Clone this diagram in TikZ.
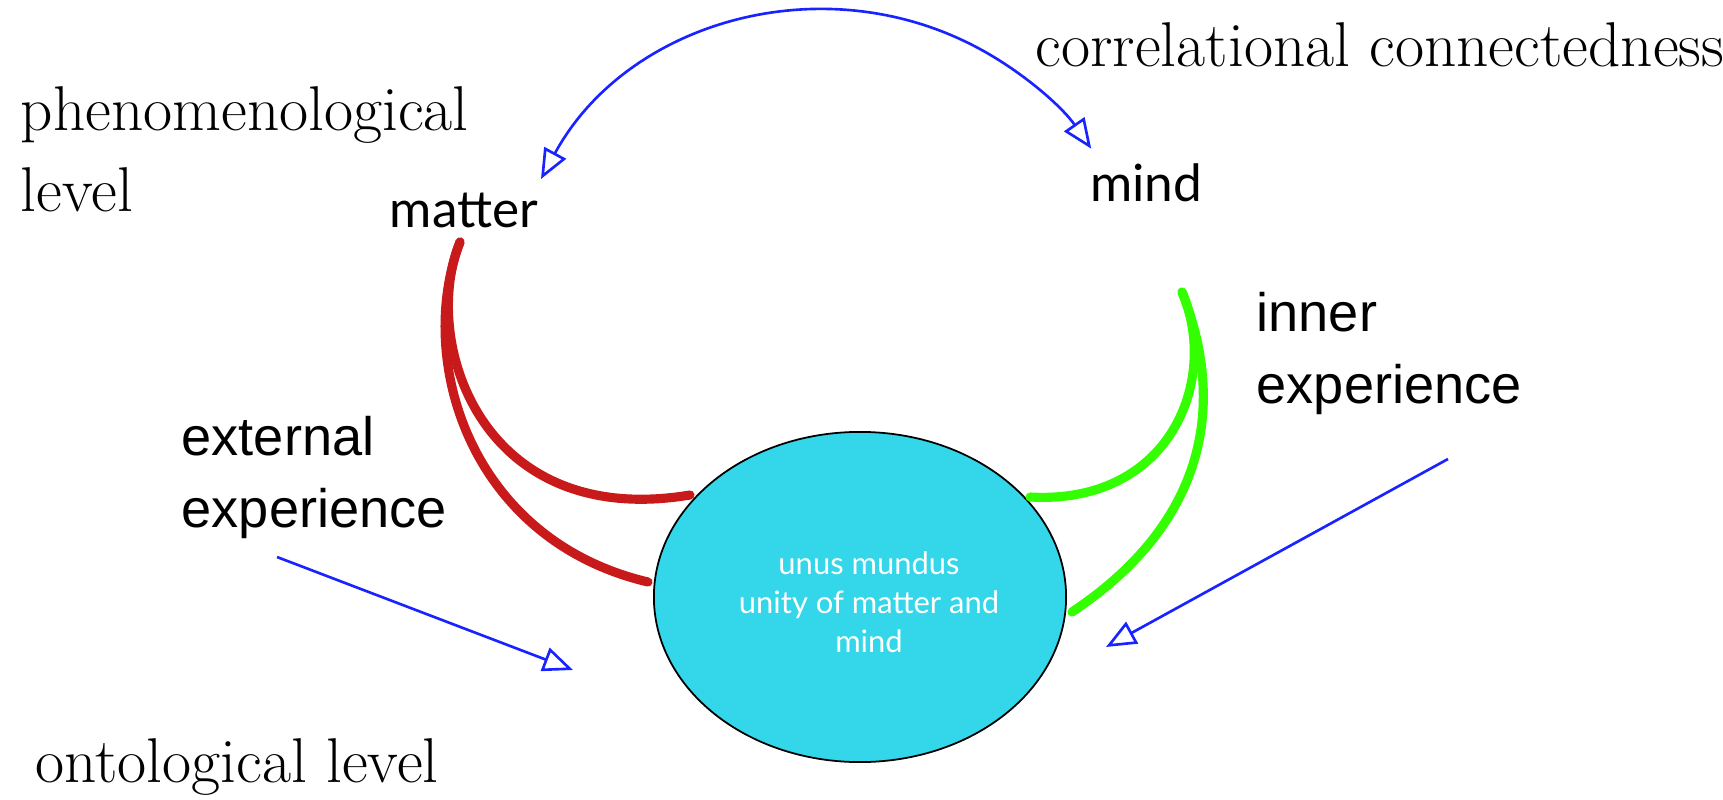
\documentclass[tikz,border=0pt]{standalone}
\usepackage{fontspec}
\newfontfamily\gillfont{Lato}
\newfontfamily\helvfont{Liberation Sans}
\usetikzlibrary{arrows.meta,shapes.geometric}
\definecolor{cyanfill}{RGB}{52,214,234}
\definecolor{redline}{RGB}{200,26,26}
\definecolor{greenline}{RGB}{51,255,0}
\definecolor{blueline}{RGB}{25,35,255}
\begin{document}
\begin{tikzpicture}[x=0.01cm,y=-0.01cm,
  serif/.style={font=\fontsize{18}{23}\selectfont, inner sep=0pt, align=left},
  helv/.style={font=\helvfont\fontsize{15.4}{20.3}\selectfont, inner sep=0pt, align=left},
  gill/.style={font=\gillfont\fontsize{14.6}{17}\selectfont, inner sep=0pt},
  redarc/.style={draw=redline, line width=2.6pt, line cap=round},
  greenarc/.style={draw=greenline, line width=2.6pt, line cap=round},
  bluearrow/.style={draw=blueline, line width=0.75pt},
  tip/.tip={Triangle[open, length=8.5pt, width=7pt]},
]
\useasboundingbox (0,0) rectangle (1723,800);

% labels (multi-line nodes anchored at the baseline of their last line)
\node[serif, anchor=base west] (phen) at (20,211) {phenomenological\\level};
\node[serif, anchor=base west] (corr) at (1035,66) {correlational connectedness};
\node[serif, anchor=base west] (onto) at (35,782) {ontological level};
\node[helv, anchor=base west] (ext) at (181,527) {external\\experience};
\node[helv, anchor=base west] (inn) at (1256,403) {inner\\experience};
\node[gill, anchor=base] (matter) at (464,227) {matter};
\node[gill, anchor=base] (mind) at (1146,201) {mind};

% unus mundus
\node[ellipse, draw=black, line width=0.5pt, fill=cyanfill,
      minimum width=4.12cm, minimum height=3.3cm, inner sep=0pt] (um) at (860,597) {};
\node[font=\gillfont\fontsize{8.8}{11}\selectfont, text=white, align=center,
      anchor=base, inner sep=0pt] (umtext) at (869,652) {unus mundus\\unity of matter and\\mind};

% red curves (matter)
\coordinate (rtop) at (460,242);
\coordinate (rin) at (690,495);
\coordinate (rout) at (648,582);
\draw[redarc] (rtop) .. controls (420,340) and (480,530) .. (rin);
\draw[redarc] (rtop) .. controls (415,360) and (470,540) .. (rout);

% green curves (mind)
\coordinate (gtop) at (1182,292);
\coordinate (gin) at (1030,497);
\coordinate (gout) at (1072,612);
\draw[greenarc] (gtop) .. controls (1220,380) and (1170,505) .. (gin);
\draw[greenarc] (gtop) .. controls (1225,400) and (1210,520) .. (gout);

% correlational arc
\coordinate (mtip) at (541,179);
\draw[bluearrow, tip-tip] (mtip) arc[start angle=151.5, end angle=34.8, radius=3.235cm];

% experience arrows
\coordinate (es) at (277,557);
\coordinate (et) at (573,670);
\coordinate (is) at (1448,459);
\coordinate (it) at (1106,647);
\draw[bluearrow, -tip] (es) -- (et);
\draw[bluearrow, -tip] (is) -- (it);
\end{tikzpicture}
\end{document}
